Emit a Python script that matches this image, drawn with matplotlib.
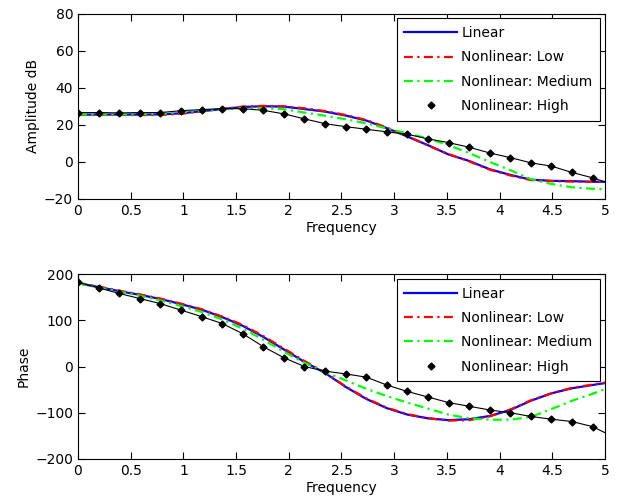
import numpy as np
import matplotlib
matplotlib.use("Agg")
import matplotlib.pyplot as plt

# frequency grid (sample spacing 5/25.6), last sample just past the axis limit
freq = np.arange(27) * 5 / 25.6

labels = ["Linear", "Nonlinear: Low", "Nonlinear: Medium", "Nonlinear: High"]

amp_linear = [25.5, 25.5, 25.5, 25.5, 25.6, 26.2, 27.3, 28.5, 29.6, 30.0, 29.8, 28.5, 27.1,
              25.0, 22.3, 18.2, 13.7, 9.0, 4.0, 0.5, -4.0, -7.0, -9.6, -10.2, -10.4, -10.7, -10.8]
amp_low = [25.3, 25.3, 25.3, 25.2, 25.3, 25.9, 27.2, 28.6, 29.8, 30.2, 30.0, 28.9, 27.4,
           25.3, 22.6, 18.5, 13.9, 8.8, 4.2, 0.3, -4.2, -7.3, -9.8, -10.4, -10.6, -10.8, -10.9]
amp_medium = [25.6, 25.6, 25.6, 25.7, 26.0, 26.8, 27.5, 28.3, 28.8, 28.9, 28.4, 26.6, 24.9,
              23.0, 20.8, 18.0, 15.3, 12.7, 9.0, 4.8, 0.0, -4.5, -9.3, -11.9, -13.7, -14.5, -15.0]
amp_high = [26.6, 26.6, 26.4, 26.6, 26.6, 27.6, 28.2, 28.7, 28.7, 27.8, 25.9, 23.2, 20.6,
            19.0, 17.6, 16.2, 14.9, 12.4, 10.4, 7.9, 4.8, 2.3, -0.5, -2.3, -5.7, -8.6, -12.2]

ph_linear = [180, 172, 163, 155, 146, 135, 123, 107, 88, 64, 37, 10, -14,
             -44, -70, -90, -104, -112, -116, -114, -107, -94, -74, -58, -47, -40, -33]
ph_low = [181, 173, 164, 156, 147, 136, 124, 108, 90, 66, 39, 12, -13,
          -43, -69, -89, -103, -112, -117, -116, -108, -93, -73, -58, -46, -39, -32]
ph_medium = [180, 171, 162, 153, 143, 131, 118, 102, 82, 58, 32, 8, -12,
             -30, -48, -64, -78, -91, -104, -112, -115, -115, -109, -92, -74, -59, -42]
ph_high = [182, 170, 158, 147, 136, 122, 108, 93, 71, 43, 19, 0, -10,
           -16, -23, -40, -54, -66, -78, -86, -94, -100, -108, -114, -119, -130, -152]

plt.rcParams['font.family'] = 'DejaVu Sans'
plt.rcParams['font.size'] = 10

fig = plt.figure(figsize=(6.27, 5.04), dpi=100)
ax1 = fig.add_axes([0.1244, 0.6052, 0.8405, 0.368])
ax2 = fig.add_axes([0.1244, 0.0893, 0.8405, 0.367])

dashdot = (0, (4, 2, 1, 2))


def draw(ax, lin, low, med, high, ylim, yticks, ylabel):
    ax.plot(freq, lin, color='#0000ff', lw=1.6, label=labels[0])
    ax.plot(freq, low, color='#ff0000', lw=1.6, ls=dashdot, label=labels[1])
    ax.plot(freq, med, color='#00ff00', lw=1.6, ls=dashdot, label=labels[2])
    ax.plot(freq, high, color='black', lw=0.8)
    ax.plot(freq, high, color='black', ls='none', marker='D', ms=3.5, label=labels[3])
    ax.set_xlim(0, 5)
    ax.set_ylim(*ylim)
    ax.set_xticks(np.arange(0, 5.01, 0.5))
    ax.set_xticklabels(["0", "0.5", "1", "1.5", "2", "2.5", "3", "3.5", "4", "4.5", "5"])
    ax.set_yticks(yticks)
    ax.tick_params(direction='in', top=True, right=True, length=5, width=0.8)
    ax.set_xlabel("Frequency", labelpad=2)
    ax.set_ylabel(ylabel, labelpad=3)
    leg = ax.legend(loc='upper right', fancybox=False, framealpha=1, edgecolor='black',
                    handlelength=3.8, handletextpad=0.3, labelspacing=0.75,
                    numpoints=1, borderaxespad=0.35, borderpad=0.55)
    leg.get_frame().set_linewidth(0.8)


draw(ax1, amp_linear, amp_low, amp_medium, amp_high, (-20, 80), np.arange(-20, 81, 20), "Amplitude dB")
draw(ax2, ph_linear, ph_low, ph_medium, ph_high, (-200, 200), np.arange(-200, 201, 100), "Phase")

fig.savefig("out.png", dpi=100)
